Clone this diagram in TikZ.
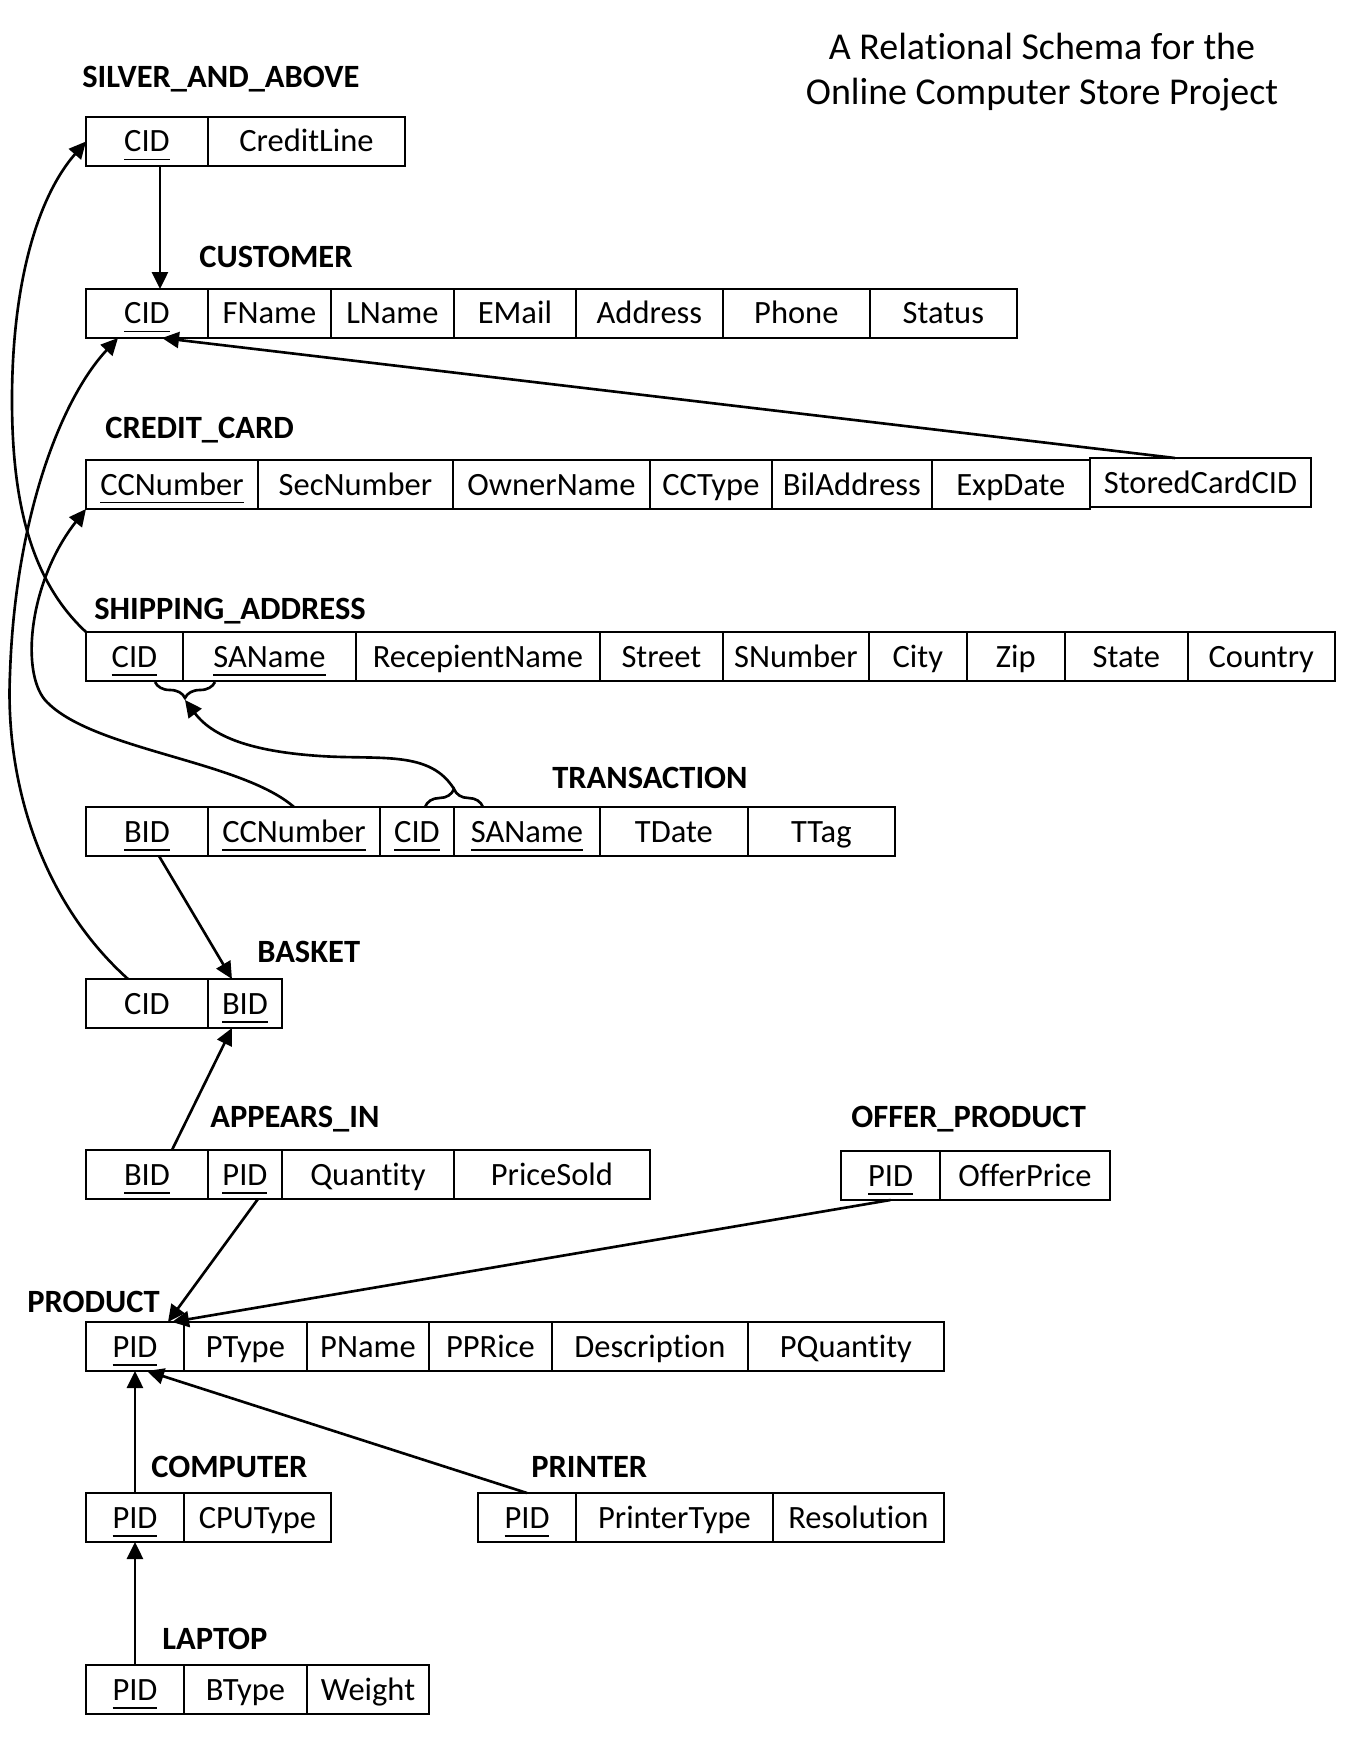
\documentclass[tikz,border=0pt]{standalone}
\usepackage{fontspec}
\setmainfont{Carlito}[Ligatures={NoCommon,NoRare}, Contextuals=NoAlternate]
\usetikzlibrary{positioning,arrows.meta,decorations.pathreplacing}

% underlined key attribute
\newcommand{\keyattr}[1]{\setbox0\hbox{#1}\rlap{\rule[-0.17cm]{\wd0}{0.9pt}}\box0}
% keep t and i apart (no ligature)
\newcommand{\ti}{t\kern0pt i}

\tikzset{
  cell/.style={draw, line width=1pt, minimum height=0.98cm, inner sep=0pt, outer sep=0pt,
    text height=0.42cm, text depth=0pt, font=\fontsize{18.5}{22}\selectfont},
  tname/.style={anchor=west, inner sep=0pt, text height=0.42cm, text depth=0pt,
    font=\fontsize{18.5}{22}\selectfont\bfseries},
  fk/.style={line width=1.5pt, -{Triangle[length=0.34cm,width=0.32cm]}},
  curly/.style={decorate, line width=1.5pt},
}

\begin{document}
\begin{tikzpicture}[x=0.02cm, y=-0.02cm]
    \useasboundingbox (0,0) rectangle (1358,1758);

    % Title
    \node[align=center, font=\fontsize{21.6}{25.6}\selectfont] (title) at (1042,72)
        {A Rela\ti onal Schema for the\\Online Computer Store Project};

    % SILVER_AND_ABOVE
    \node[tname] (lsilver) at (82,77) {SILVER\_AND\_ABOVE};
    \node[cell, anchor=north west, minimum width=2.44cm] (sa1) at (86,117) {\keyattr{CID}};
    \node[cell, right=0pt of sa1, minimum width=3.94cm] (sa2) {CreditLine};

    % CUSTOMER
    \node[tname] (lcustomer) at (199,257) {CUSTOMER};
    \node[cell, anchor=north west, minimum width=2.44cm] (cu1) at (86,289) {\keyattr{CID}};
    \node[cell, right=0pt of cu1, minimum width=2.46cm] (cu2) {FName};
    \node[cell, right=0pt of cu2, minimum width=2.46cm] (cu3) {LName};
    \node[cell, right=0pt of cu3, minimum width=2.44cm] (cu4) {EMail};
    \node[cell, right=0pt of cu4, minimum width=2.94cm] (cu5) {Address};
    \node[cell, right=0pt of cu5, minimum width=2.94cm] (cu6) {Phone};
    \node[cell, right=0pt of cu6, minimum width=2.94cm] (cu7) {Status};

    % CREDIT_CARD
    \node[tname] (lcredit) at (105,428) {CREDIT\_CARD};
    \node[cell, anchor=north west, minimum width=3.44cm] (cc1) at (86,460) {\keyattr{CCNumber}};
    \node[cell, right=0pt of cc1, minimum width=3.90cm] (cc2) {SecNumber};
    \node[cell, right=0pt of cc2, minimum width=3.94cm] (cc3) {OwnerName};
    \node[cell, right=0pt of cc3, minimum width=2.44cm] (cc4) {CCType};
    \node[cell, right=0pt of cc4, minimum width=3.20cm] (cc5) {BilAddress};
    \node[cell, right=0pt of cc5, minimum width=3.16cm] (cc6) {ExpDate};
    \node[cell, anchor=north west, minimum width=4.42cm] (sc) at (1090,458) {StoredCardCID};

    % SHIPPING_ADDRESS
    \node[tname] (lshipping) at (94,609) {SHIPPING\_ADDRESS};
    \node[cell, anchor=north west, minimum width=1.94cm] (sh1) at (86,632) {\keyattr{CID}};
    \node[cell, right=0pt of sh1, minimum width=3.46cm] (sh2) {\keyattr{SAName}};
    \node[cell, right=0pt of sh2, minimum width=4.88cm] (sh3) {RecepientName};
    \node[cell, right=0pt of sh3, minimum width=2.46cm] (sh4) {Street};
    \node[cell, right=0pt of sh4, minimum width=2.92cm] (sh5) {SNumber};
    \node[cell, right=0pt of sh5, minimum width=1.96cm] (sh6) {City};
    \node[cell, right=0pt of sh6, minimum width=1.96cm] (sh7) {Zip};
    \node[cell, right=0pt of sh7, minimum width=2.46cm] (sh8) {State};
    \node[cell, right=0pt of sh8, minimum width=2.94cm] (sh9) {Country};

    % TRANSACTION
    \node[tname] (ltransaction) at (552,778) {TRANSACTION};
    \node[cell, anchor=north west, minimum width=2.44cm] (tr1) at (86,807) {\keyattr{BID}};
    \node[cell, right=0pt of tr1, minimum width=3.44cm] (tr2) {\keyattr{CCNumber}};
    \node[cell, right=0pt of tr2, minimum width=1.48cm] (tr3) {\keyattr{CID}};
    \node[cell, right=0pt of tr3, minimum width=2.92cm] (tr4) {\keyattr{SAName}};
    \node[cell, right=0pt of tr4, minimum width=2.96cm] (tr5) {TDate};
    \node[cell, right=0pt of tr5, minimum width=2.94cm] (tr6) {TTag};

    % BASKET
    \node[tname] (lbasket) at (257,952) {BASKET};
    \node[cell, anchor=north west, minimum width=2.44cm] (bk1) at (86,979) {CID};
    \node[cell, right=0pt of bk1, minimum width=1.48cm] (bk2) {\keyattr{BID}};

    % APPEARS_IN
    \node[tname] (lappears) at (210,1117) {APPEARS\_IN};
    \node[cell, anchor=north west, minimum width=2.44cm] (ap1) at (86,1150) {\keyattr{BID}};
    \node[cell, right=0pt of ap1, minimum width=1.48cm] (ap2) {\keyattr{PID}};
    \node[cell, right=0pt of ap2, minimum width=3.44cm] (ap3) {Quan\ti ty};
    \node[cell, right=0pt of ap3, minimum width=3.92cm] (ap4) {PriceSold};

    % OFFER_PRODUCT
    \node[tname] (loffer) at (851,1117) {OFFER\_PRODUCT};
    \node[cell, anchor=north west, minimum width=1.98cm] (of1) at (841,1151) {\keyattr{PID}};
    \node[cell, right=0pt of of1, minimum width=3.40cm] (of2) {OfferPrice};

    % PRODUCT
    \node[tname] (lproduct) at (27,1302) {PRODUCT};
    \node[cell, anchor=north west, minimum width=1.96cm] (pr1) at (86,1322) {\keyattr{PID}};
    \node[cell, right=0pt of pr1, minimum width=2.46cm] (pr2) {PType};
    \node[cell, right=0pt of pr2, minimum width=2.44cm] (pr3) {PName};
    \node[cell, right=0pt of pr3, minimum width=2.46cm] (pr4) {PPRice};
    \node[cell, right=0pt of pr4, minimum width=3.92cm] (pr5) {Descrip\ti on};
    \node[cell, right=0pt of pr5, minimum width=3.92cm] (pr6) {PQuan\ti ty};

    % COMPUTER
    \node[tname] (lcomputer) at (151,1467) {COMPUTER};
    \node[cell, anchor=north west, minimum width=1.96cm] (co1) at (86,1493) {\keyattr{PID}};
    \node[cell, right=0pt of co1, minimum width=2.94cm] (co2) {CPUType};

    % PRINTER
    \node[tname] (lprinter) at (531,1467) {PRINTER};
    \node[cell, anchor=north west, minimum width=1.96cm] (pt1) at (478,1493) {\keyattr{PID}};
    \node[cell, right=0pt of pt1, minimum width=3.94cm] (pt2) {PrinterType};
    \node[cell, right=0pt of pt2, minimum width=3.42cm] (pt3) {Resolu\ti on};

    % LAPTOP
    \node[tname] (llaptop) at (162,1639) {LAPTOP};
    \node[cell, anchor=north west, minimum width=1.96cm] (la1) at (86,1665) {\keyattr{PID}};
    \node[cell, right=0pt of la1, minimum width=2.46cm] (la2) {BType};
    \node[cell, right=0pt of la2, minimum width=2.44cm] (la3) {Weight};

    % Braces on the composite key
    \draw[curly, decoration={brace, amplitude=0.32cm}] (215,682) -- (155,682);
    \draw[curly, decoration={brace, amplitude=0.36cm}] (425,807) -- (483,807);
    \coordinate (sbrace) at (185,700);
    \coordinate (tbrace) at (454,789);

    % Foreign keys
    \draw[fk] ([xshift=0.26cm]sa1.south) -- ([xshift=0.26cm]cu1.north);
    \draw[fk] ([xshift=-0.51cm]sc.north) -- ([xshift=0.3cm]cu1.south);
    \draw[fk] ([xshift=-0.38cm]bk1.north) .. controls (40,900) and (5,780) .. (10,674)
        .. controls (15,520) and (60,400) .. ([xshift=-0.58cm]cu1.south);
    \draw[fk] (sh1.north west) .. controls (30,580) and (12,500) .. (12,400)
        .. controls (12,290) and (35,200) .. (sa1.west);
    \draw[fk] (tr2.north) .. controls (240,760) and (90,750) .. (45,700)
        .. controls (20,670) and (30,580) .. (cc1.south west);
    \draw[fk] (tbrace) .. controls (430,750) and (380,760) .. (320,756)
        .. controls (260,752) and (215,740) .. (sbrace);
    \draw[fk] ([xshift=0.24cm]tr1.south) -- ([xshift=-0.26cm]bk2.north);
    \draw[fk] ([xshift=0.5cm]ap1.north) -- ([xshift=-0.26cm]bk2.south);
    \draw[fk] ([xshift=0.26cm]ap2.south) -- ([xshift=0.66cm]pr1.north);
    \draw[fk] (of1.south) -- ([xshift=0.74cm]pr1.north);
    \draw[fk] (co1.north) -- (pr1.south);
    \draw[fk] (la1.north) -- (co1.south);
    \draw[fk] (pt1.north) -- ([xshift=0.24cm]pr1.south);
\end{tikzpicture}
\end{document}
